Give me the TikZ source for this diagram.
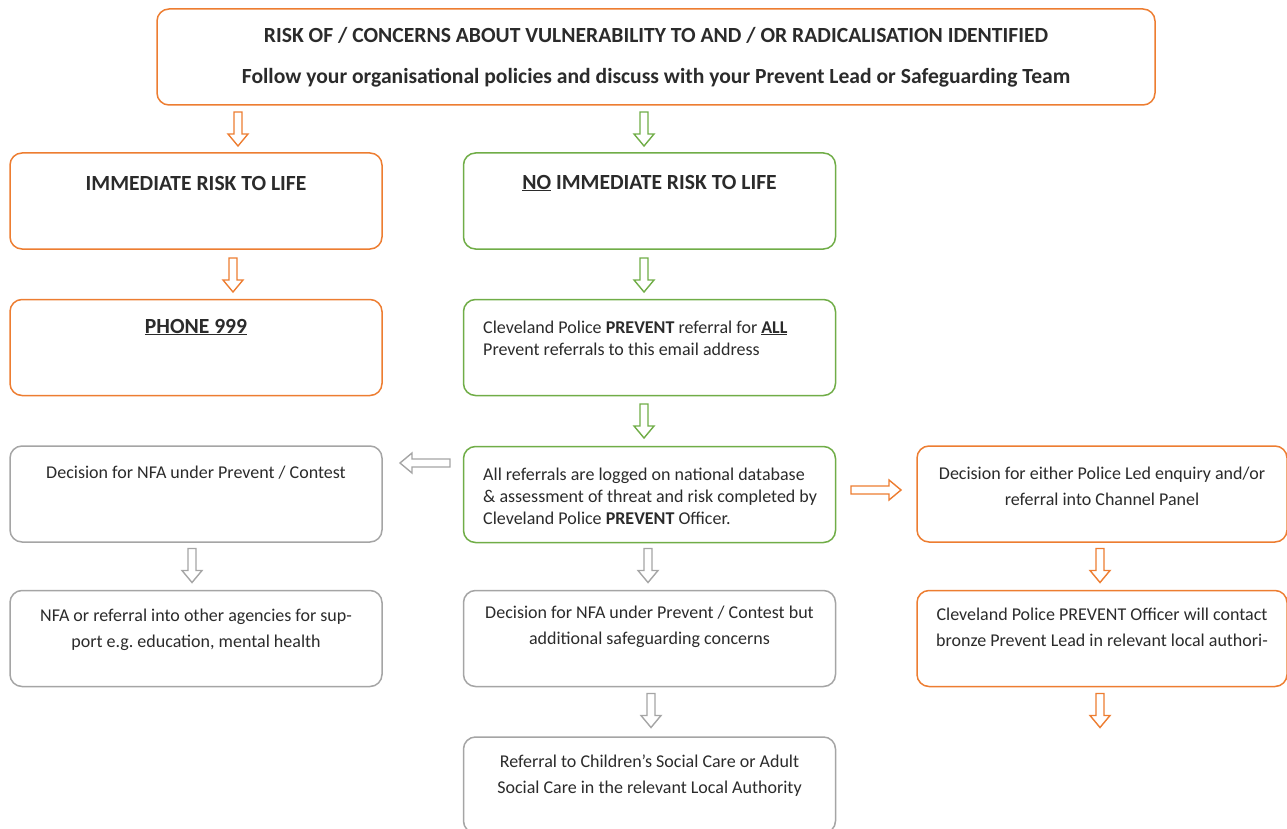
\documentclass[tikz,border=0pt]{standalone}
\usepackage{fontspec}
\setmainfont{Carlito}
\definecolor{orng}{HTML}{ED7D31}
\definecolor{grn}{HTML}{70AD47}
\definecolor{gry}{HTML}{A5A5A5}
\definecolor{txtc}{HTML}{2B2B2B}
\begin{document}
\frenchspacing
\begin{tikzpicture}[x=1pt,y=-1pt,
 box/.style={draw, line width=1.5pt, rounded corners=12pt, fill=white, inner sep=0pt, minimum width=372pt, minimum height=96pt},
 ob/.style={box, draw=orng},
 gb/.style={box, draw=grn},
 yb/.style={box, draw=gry},
 lbl/.style={text=txtc, font=\fontsize{18}{26}\selectfont, align=center, inner sep=0pt},
 hd/.style={lbl, font=\bfseries\fontsize{21.6}{26}\selectfont},
 lbll/.style={text=txtc, font=\fontsize{18}{22}\selectfont, align=left, inner sep=0pt, anchor=west},
 pics/blockdown/.style={code={\draw[line width=1.4pt, fill=white, line join=miter] (-4,-17) -- (4,-17) -- (4,5) -- (10,5) -- (0,17) -- (-10,5) -- (-4,5) -- cycle;}},
 pics/blockright/.style={code={\draw[line width=1.4pt, fill=white, line join=miter] (-25,-4) -- (13,-4) -- (13,-10) -- (25,0) -- (13,10) -- (13,4) -- (-25,4) -- cycle;}},
]
\useasboundingbox (0,0) rectangle (1287,829);

% boxes
\node[ob, minimum width=998pt] (top) at (656,57) {};
\node[ob] (imm) at (196,201) {};
\node[gb] (noimm) at (649.5,201) {};
\node[ob] (phone) at (196,347.5) {};
\node[gb] (cpref) at (649.5,347.5) {};
\node[yb] (nfa1) at (196,494) {};
\node[gb] (allref) at (649.5,494.5) {};
\node[ob, minimum width=370pt] (polled) at (1102,494) {};
\node[yb] (nfa2) at (196,638.5) {};
\node[yb] (nfa3) at (649.5,638.5) {};
\node[ob, minimum width=370pt] (cpoff) at (1102,638.5) {};
\node[yb] (refcsc) at (649.5,785) {};

% texts
\node[hd] (t1a) at (656,35) {RISK OF / CONCERNS ABOUT VULNERABILITY TO AND / OR RADICALISATION IDENTIFIED};
\node[hd] (t1b) at (656,77.5) {Follow your organisational policies and discuss with your Prevent Lead or Safeguarding Team};
\node[hd] (timm) at (196,183) {IMMEDIATE RISK TO LIFE};
\node[hd] (tnoimm) at (649.5,183) {\underline{NO} IMMEDIATE RISK TO LIFE};
\node[hd] (tphone) at (196,327) {\underline{PHONE 999}};
\node[lbll] (tcpref) at (483,338) {Cleveland Police \textbf{PREVENT} referral for \textbf{\underline{ALL}}\\Prevent referrals to this email address};
\node[lbl] (tnfa1) at (196,473) {Decision for NFA under Prevent / Contest};
\node[lbll] (tallref) at (483,496) {All referrals are logged on national database\\\& assessment of threat and risk completed by\\Cleveland Police \textbf{PREVENT} Officer.};
\node[lbl] (tpolled) at (1102,486) {Decision for either Police Led enquiry and/or\\referral into Channel Panel};
\node[lbl] (tnfa2) at (196,630) {NFA or referral into other agencies for sup-\\port e.g. education, mental health};
\node[lbl] (tnfa3) at (649.5,627) {Decision for NFA under Prevent / Contest but\\additional safeguarding concerns};
\node[lbl] (tcpoff) at (1102,627) {Cleveland Police PREVENT Officer will contact\\bronze Prevent Lead in relevant local authori-};
\node[lbl] (trefcsc) at (649.5,776) {Referral to Children’s Social Care or Adult\\Social Care in the relevant Local Authority};

% block arrows
\pic[orng] (a1) at (238,129) {blockdown};
\pic[grn] (a2) at (644,129) {blockdown};
\pic[orng] (a3) at (233,275) {blockdown};
\pic[grn] (a4) at (644,275) {blockdown};
\pic[grn] (a5) at (644,421) {blockdown};
\pic[gry, rotate=180] (a6) at (425,463) {blockright};
\pic[orng] (a7) at (876,490) {blockright};
\pic[gry] (a8) at (192,565.5) {blockdown};
\pic[gry] (a9) at (648,565.5) {blockdown};
\pic[orng] (a10) at (1100,565.5) {blockdown};
\pic[gry] (a11) at (651,710.5) {blockdown};
\pic[orng] (a12) at (1100,710.5) {blockdown};
\end{tikzpicture}
\end{document}
